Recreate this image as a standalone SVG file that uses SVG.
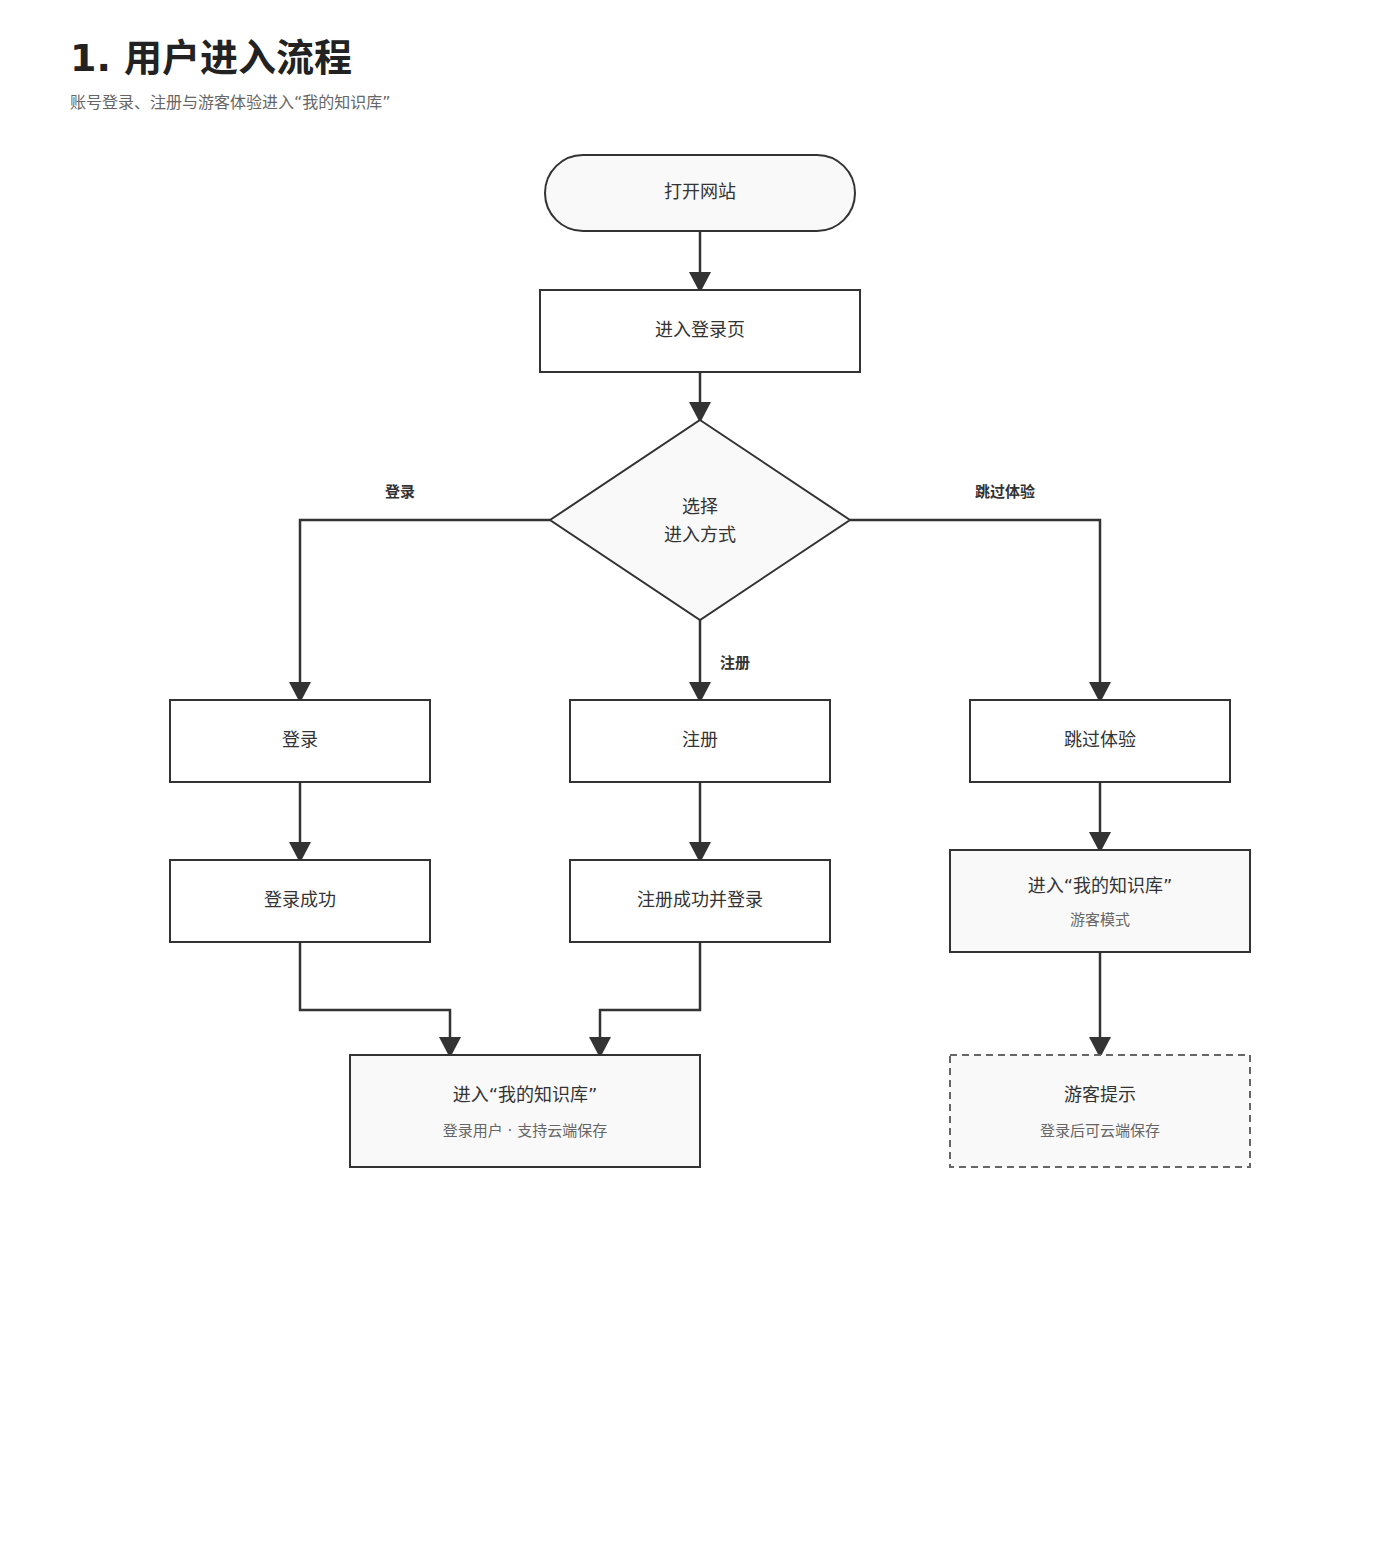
<svg xmlns="http://www.w3.org/2000/svg" width="1400" height="1550" viewBox="0 0 1400 1550">
<style>
text{font-family:"DejaVu Sans","Noto Sans CJK SC",sans-serif;fill:#333}
.title{font-size:38px;font-weight:bold;fill:#222}
.sub{font-size:16px;fill:#666}
.lbl{font-size:18px;text-anchor:middle}
.small{font-size:15px;fill:#666;text-anchor:middle}
.elbl{font-size:15px;font-weight:bold;text-anchor:middle;fill:#333}
.n{stroke:#333;stroke-width:2;fill:#fff}
.f{fill:#f9f9f9}
.dash{stroke:#666;stroke-dasharray:7 5}
.c{fill:none;stroke:#333;stroke-width:2.5}
</style>
<defs>
<marker id="ah" viewBox="0 0 21 22" refX="20" refY="11" markerWidth="21" markerHeight="22" markerUnits="userSpaceOnUse" orient="auto">
<path d="M0,0 L21,11 L0,22 z" fill="#333"/>
</marker>
</defs>
<rect width="1400" height="1550" fill="#fff"/>
<text class="title" x="70" y="71">1. 用户进入流程</text>
<text class="sub" x="70" y="108">账号登录、注册与游客体验进入“我的知识库”</text>

<g id="connectors">
<path class="c" d="M700,231 V292" marker-end="url(#ah)"/>
<path class="c" d="M700,372 V422" marker-end="url(#ah)"/>
<path class="c" d="M550,520 H300 V702" marker-end="url(#ah)"/>
<path class="c" d="M700,620 V702" marker-end="url(#ah)"/>
<path class="c" d="M850,520 H1100 V702" marker-end="url(#ah)"/>
<path class="c" d="M300,782 V862" marker-end="url(#ah)"/>
<path class="c" d="M700,782 V862" marker-end="url(#ah)"/>
<path class="c" d="M1100,782 V852" marker-end="url(#ah)"/>
<path class="c" d="M300,942 V1010 H450 V1057" marker-end="url(#ah)"/>
<path class="c" d="M700,942 V1010 H600 V1057" marker-end="url(#ah)"/>
<path class="c" d="M1100,952 V1057" marker-end="url(#ah)"/>
<text class="elbl" x="400" y="497">登录</text>
<text class="elbl" x="1005" y="497">跳过体验</text>
<text class="elbl" x="735" y="668">注册</text>
</g>

<g id="open">
<rect class="n f" x="545" y="155" width="310" height="76" rx="38"/>
<text class="lbl" x="700" y="198">打开网站</text>
</g>
<g id="loginpage">
<rect class="n" x="540" y="290" width="320" height="82"/>
<text class="lbl" x="700" y="336">进入登录页</text>
</g>
<g id="choose">
<polygon class="n f" points="700,420 850,520 700,620 550,520"/>
<text class="lbl" x="700" y="513">选择</text>
<text class="lbl" x="700" y="541">进入方式</text>
</g>
<g id="login">
<rect class="n" x="170" y="700" width="260" height="82"/>
<text class="lbl" x="300" y="746">登录</text>
</g>
<g id="register">
<rect class="n" x="570" y="700" width="260" height="82"/>
<text class="lbl" x="700" y="746">注册</text>
</g>
<g id="skip">
<rect class="n" x="970" y="700" width="260" height="82"/>
<text class="lbl" x="1100" y="746">跳过体验</text>
</g>
<g id="loginok">
<rect class="n" x="170" y="860" width="260" height="82"/>
<text class="lbl" x="300" y="906">登录成功</text>
</g>
<g id="regok">
<rect class="n" x="570" y="860" width="260" height="82"/>
<text class="lbl" x="700" y="906">注册成功并登录</text>
</g>
<g id="guestlib">
<rect class="n f" x="950" y="850" width="300" height="102"/>
<text class="lbl" x="1100" y="892">进入“我的知识库”</text>
<text class="small" x="1100" y="925">游客模式</text>
</g>
<g id="userlib">
<rect class="n f" x="350" y="1055" width="350" height="112"/>
<text class="lbl" x="525" y="1101">进入“我的知识库”</text>
<text class="small" x="525" y="1136">登录用户 · 支持云端保存</text>
</g>
<g id="guesttip">
<rect class="n f dash" x="950" y="1055" width="300" height="112"/>
<text class="lbl" x="1100" y="1101">游客提示</text>
<text class="small" x="1100" y="1136">登录后可云端保存</text>
</g>
</svg>
